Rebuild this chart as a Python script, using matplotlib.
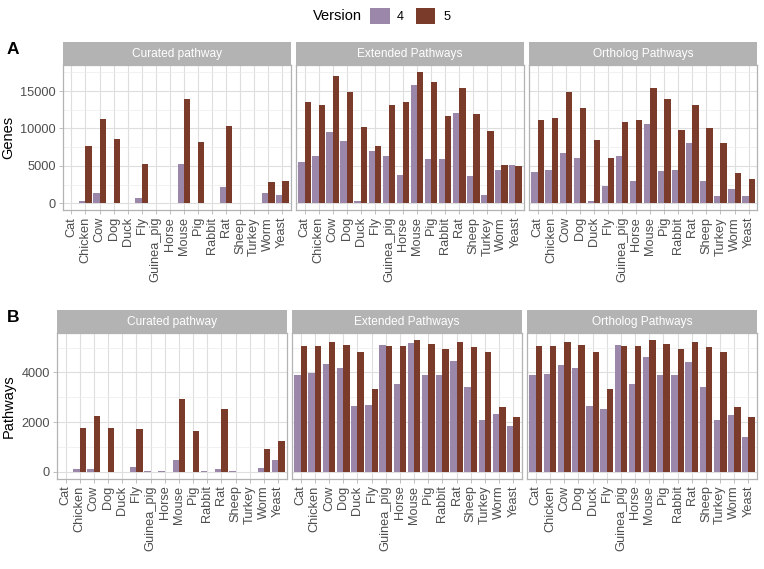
import numpy as np
import matplotlib
matplotlib.use("Agg")
import matplotlib.pyplot as plt
from matplotlib.patches import Patch

plt.rcParams['font.family'] = ['Liberation Sans', 'DejaVu Sans']

species = ['Cat', 'Chicken', 'Cow', 'Dog', 'Duck', 'Fly', 'Guinea_pig', 'Horse',
           'Mouse', 'Pig', 'Rabbit', 'Rat', 'Sheep', 'Turkey', 'Worm', 'Yeast']
facets = ['Curated pathway', 'Extended Pathways', 'Ortholog Pathways']

# Genes (panel A), version 4 / version 5
genes_curated_v4 = [0, 350, 1350, 0, 0, 760, 90, 40, 5220, 0, 80, 2230, 80, 0, 1340, 1120]
genes_curated_v5 = [0, 7700, 11200, 8550, 0, 5220, 0, 110, 13940, 8240, 0, 10330, 0, 0, 2900, 3000]
genes_extended_v4 = [5570, 6370, 9530, 8370, 360, 6990, 6280, 3790, 15850, 5970, 5970, 12110, 3700, 1110, 4500, 5080]
genes_extended_v5 = [13580, 13090, 17050, 14870, 10150, 7660, 13090, 13580, 17590, 16160, 11670, 15360, 11930, 9660, 5080, 4990]
genes_ortholog_v4 = [4190, 4500, 6680, 6100, 360, 2360, 6280, 2940, 10600, 4360, 4500, 8060, 2940, 980, 1910, 980]
genes_ortholog_v5 = [11090, 11400, 14870, 12690, 8460, 6100, 10820, 11090, 15360, 13890, 9750, 13090, 10020, 8060, 4010, 3210]

# Pathways (panel B), version 4 / version 5
path_curated_v4 = [0, 133, 107, 0, 0, 200, 40, 40, 493, 0, 40, 133, 40, 0, 173, 467]
path_curated_v5 = [0, 1760, 2267, 1760, 0, 1707, 0, 0, 2947, 1653, 0, 2547, 0, 0, 907, 1227]
path_extended_v4 = [3893, 3960, 4320, 4173, 2653, 2680, 5120, 3520, 5200, 3893, 3893, 4453, 3400, 2067, 2333, 1827]
path_extended_v5 = [5053, 5053, 5227, 5120, 4813, 3333, 5080, 5080, 5320, 5147, 4960, 5227, 5013, 4813, 2600, 2213]
path_ortholog_v4 = [3893, 3933, 4280, 4160, 2653, 2547, 5120, 3520, 4613, 3893, 3893, 4413, 3400, 2067, 2280, 1400]
path_ortholog_v5 = [5053, 5053, 5227, 5120, 4813, 3333, 5080, 5080, 5320, 5147, 4960, 5227, 5013, 4813, 2600, 2213]

c4 = '#9b87a9'
c5 = '#7a3b2b'
W, H = 764, 569

fig = plt.figure(figsize=(W / 100, H / 100), dpi=100)


def px_axes(x0, y0, x1, y1):
    return fig.add_axes([x0 / W, 1 - y1 / H, (x1 - x0) / W, (y1 - y0) / H])


def draw_row(data, left, top, bottom, ylabel, yticks, minor, letter, letter_xy):
    ymax = max(max(v) for pair in data for v in pair)
    lo, hi = -0.05 * ymax, ymax * 1.05
    gap = 5.5
    width = (757 - left - 2 * gap) / 3
    strip_h = 23
    x = np.arange(1, len(species) + 1)
    for i, (v4, v5) in enumerate(data):
        x0 = left + i * (width + gap)
        ax = px_axes(x0, top, x0 + width, bottom)
        ax.bar(x - 0.225, v4, width=0.45, color=c4, zorder=3)
        ax.bar(x + 0.225, v5, width=0.45, color=c5, zorder=3)
        ax.set_xlim(0.4, len(species) + 0.6)
        ax.set_ylim(lo, hi)
        ax.set_xticks(x)
        ax.set_xticklabels(species, rotation=90, fontsize=9.2, color='#4d4d4d')
        ax.set_yticks(yticks)
        ax.set_yticks(minor, minor=True)
        ax.grid(True, which='major', color='#dedede', lw=0.8, zorder=0)
        ax.grid(True, which='minor', axis='y', color='#ececec', lw=0.5, zorder=0)
        ax.tick_params(axis='both', which='major', color='#b3b3b3', length=3, width=0.6, pad=2)
        ax.tick_params(axis='y', which='minor', length=0)
        if i == 0:
            ax.set_yticklabels([str(t) for t in yticks], fontsize=9.2, color='#4d4d4d')
            ax.set_ylabel(ylabel, fontsize=10.5, labelpad=4)
        else:
            ax.set_yticklabels([])
            ax.tick_params(axis='y', which='major', length=0)
        for s in ax.spines.values():
            s.set_color('#b3b3b3')
            s.set_linewidth(0.9)
        sx = px_axes(x0, top - strip_h, x0 + width, top)
        sx.set_facecolor('#b3b3b3')
        sx.set_xticks([])
        sx.set_yticks([])
        for s in sx.spines.values():
            s.set_visible(False)
        sx.text(0.5, 0.5, facets[i], color='white', fontsize=8.6,
                ha='center', va='center', transform=sx.transAxes)
    fig.text(letter_xy[0] / W, 1 - letter_xy[1] / H, letter, fontsize=12.5,
             fontweight='bold', ha='center', va='center')


draw_row([(genes_curated_v4, genes_curated_v5),
          (genes_extended_v4, genes_extended_v5),
          (genes_ortholog_v4, genes_ortholog_v5)],
         63, 65, 210, 'Genes', [0, 5000, 10000, 15000],
         [2500, 7500, 12500, 17500], 'A', (13, 49))

draw_row([(path_curated_v4, path_curated_v5),
          (path_extended_v4, path_extended_v5),
          (path_ortholog_v4, path_ortholog_v5)],
         57, 333, 478.5, 'Pathways', [0, 2000, 4000],
         [1000, 3000, 5000], 'B', (13, 317))

# legend
fig.text(337 / W, 1 - 16 / H, 'Version', fontsize=10.5, ha='center', va='center')
handles = [Patch(facecolor=c4, edgecolor='none'), Patch(facecolor=c5, edgecolor='none')]
fig.legend(handles, ['4', '5'], ncol=2, loc='center', bbox_to_anchor=(410 / W, 1 - 16 / H),
           frameon=False, fontsize=9.2, handlelength=1.55, handleheight=1.65,
           handletextpad=0.6, columnspacing=0.9, borderpad=0)

fig.savefig('out.png', dpi=100)
